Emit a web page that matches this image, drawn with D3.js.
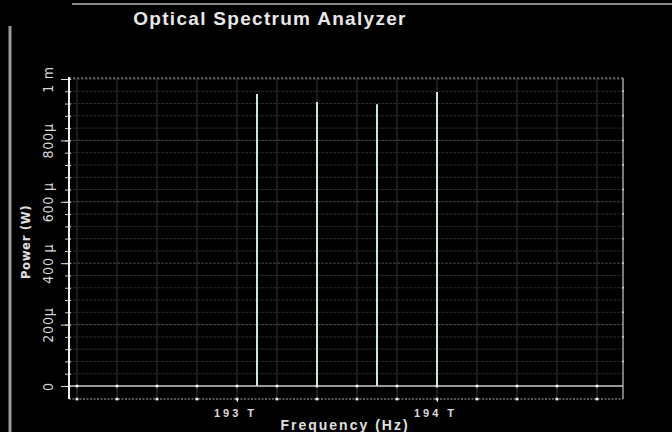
<!DOCTYPE html>
<meta charset="utf-8">
<style>
body { margin: 0; background: #000; }
svg { display: block; }
.title { font: bold 19px "Liberation Sans", Arial, sans-serif; fill: #e8e8e8; letter-spacing: 1.3px; }
.ylab text { font: 14px "Liberation Sans Narrow", "DejaVu Sans Condensed", sans-serif; fill: #d8d8d8; letter-spacing: 0.8px; }
.xlab text { font: bold 11px "Liberation Sans", Arial, sans-serif; fill: #dcdcdc; letter-spacing: 3px; }
.axtitle { fill: #e0e0e0; }
</style>
<body>

<script src="https://cdn.jsdelivr.net/npm/d3@7"></script>
<script>

// peaks (THz, W)
var freqs  = [193.1, 193.4, 193.7, 194.0];
var powers = [951e-6, 925e-6, 918e-6, 958e-6];

// ticks
var yTicks = [0, 200e-6, 400e-6, 600e-6, 800e-6, 1e-3];
var yTickLabels = ["0", "200μ", "400 μ", "600 μ", "800μ", "1 m"];
var xTicks = [193, 194];
var xTickLabels = ["193 T", "194 T"];

var W = 672, H = 432;
var plot = {left: 69, right: 623, top: 79, zero: 386, bottom: 399};

var svg = d3.select("body").append("svg")
    .attr("width", W)
    .attr("height", H);

svg.append("rect").attr("width", W).attr("height", H).attr("fill", "#000");

// window frame bits
svg.append("line").attr("x1", 72).attr("x2", W).attr("y1", 4).attr("y2", 4)
    .attr("stroke", "#8a8a8a").attr("stroke-width", 2);
svg.append("line").attr("x1", 10).attr("x2", 10).attr("y1", 26).attr("y2", H)
    .attr("stroke", "#9a9a9a").attr("stroke-width", 3);

var x = d3.scaleLinear()
    .domain([192.16, 194.93])
    .range([plot.left, plot.right]);
var y = d3.scaleLinear()
    .domain([0, 1e-3])
    .range([plot.zero, plot.top]);

// grid
var vGrid = d3.range(0, 14).map(function(i) { return 192.2 + i * 0.2; });
var hGrid = d3.range(1, 26).map(function(i) { return i * 40e-6; });

svg.append("g").selectAll("line")
    .data(hGrid)
  .enter().append("line")
    .attr("x1", plot.left).attr("x2", plot.right)
    .attr("y1", function(d) { return y(d); })
    .attr("y2", function(d) { return y(d); })
    .attr("stroke", function(d, i) { return (i + 1) % 5 == 0 ? "#484848" : "#2a2a2a"; })
    .attr("stroke-dasharray", "3,1");

svg.append("g").selectAll("line")
    .data(vGrid)
  .enter().append("line")
    .attr("x1", function(d) { return x(d); })
    .attr("x2", function(d) { return x(d); })
    .attr("y1", plot.top).attr("y2", plot.bottom)
    .attr("stroke", "#383838");

// top dotted border
svg.append("line").attr("x1", plot.left).attr("x2", plot.right)
    .attr("y1", plot.top - 1).attr("y2", plot.top - 1)
    .attr("stroke", "#9a9a9a").attr("stroke-dasharray", "2,2");
// right border
svg.append("line").attr("x1", plot.right).attr("x2", plot.right)
    .attr("y1", plot.top - 1).attr("y2", plot.bottom)
    .attr("stroke", "#a0a0a0").attr("stroke-width", 1.5);
svg.append("g").selectAll("circle")
    .data(d3.range(1, 13).map(function(i) { return i * 80e-6; }))
  .enter().append("circle")
    .attr("cx", plot.right).attr("cy", function(d) { return y(d); })
    .attr("r", 1).attr("fill", "#cfcfcf");

// zero line
svg.append("line").attr("x1", plot.left).attr("x2", plot.right)
    .attr("y1", plot.zero).attr("y2", plot.zero)
    .attr("stroke", "#c8c8c8").attr("stroke-width", 1.5);
// bottom dotted line
svg.append("line").attr("x1", plot.left).attr("x2", plot.right)
    .attr("y1", plot.bottom).attr("y2", plot.bottom)
    .attr("stroke", "#b0b0b0").attr("stroke-dasharray", "2,1.5");

svg.append("g").selectAll("circle")
    .data(vGrid)
  .enter().append("circle")
    .attr("cx", function(d) { return x(d); }).attr("cy", plot.zero)
    .attr("r", 1.6).attr("fill", "#f0f0f0");
svg.append("g").selectAll("circle")
    .data(vGrid)
  .enter().append("circle")
    .attr("cx", function(d) { return x(d); }).attr("cy", plot.bottom)
    .attr("r", 1.6).attr("fill", "#f0f0f0");

// peaks
svg.append("g").selectAll("line")
    .data(freqs)
  .enter().append("line")
    .attr("x1", function(d) { return x(d); })
    .attr("x2", function(d) { return x(d); })
    .attr("y1", y(0))
    .attr("y2", function(d, i) { return y(powers[i]); })
    .attr("stroke", "#cde6e3")
    .attr("stroke-width", 2);

// y axis, minor ticks
var yMinor = d3.range(0, 26).map(function(i) { return i * 40e-6; });
svg.append("g")
    .attr("transform", "translate(" + plot.left + ",0)")
    .call(d3.axisLeft(y).tickValues(yMinor).tickSize(4).tickFormat(""))
    .call(function(g) {
      g.select(".domain").remove();
      g.selectAll("line").attr("stroke", "#d0d0d0").attr("x2", 2).attr("x1", -4);
    });

var yAxis = svg.append("g")
    .attr("class", "ylab")
    .attr("transform", "translate(" + plot.left + ",0)")
    .call(d3.axisLeft(y).tickValues(yTicks).tickSize(8)
      .tickFormat(function(d, i) { return yTickLabels[i]; }));
yAxis.select(".domain").remove();
yAxis.selectAll("line").attr("stroke", "#e0e0e0");
yAxis.selectAll("text")
    .attr("transform", "rotate(-90)")
    .attr("x", 0).attr("y", -16).attr("dy", 0)
    .attr("text-anchor", "middle");

svg.append("line").attr("x1", plot.left).attr("x2", plot.left)
    .attr("y1", plot.top - 2).attr("y2", plot.bottom)
    .attr("stroke", "#f0f0f0").attr("stroke-width", 2);

// x axis
var xAxis = svg.append("g")
    .attr("class", "xlab")
    .attr("transform", "translate(0," + plot.bottom + ")")
    .call(d3.axisBottom(x).tickValues(xTicks).tickSize(3)
      .tickFormat(function(d, i) { return xTickLabels[i]; }));
xAxis.select(".domain").remove();
xAxis.selectAll("line").attr("stroke", "#e0e0e0");
xAxis.selectAll("text").attr("dy", 0).attr("y", 18).attr("dx", -2);

// titles
svg.append("text").attr("class", "title")
    .attr("x", 270).attr("y", 25)
    .attr("text-anchor", "middle")
    .text("Optical Spectrum Analyzer");

svg.append("text").attr("class", "axtitle")
    .attr("x", 345).attr("y", 430)
    .attr("text-anchor", "middle")
    .style("font", "bold 14px 'Liberation Sans', Arial, sans-serif")
    .style("letter-spacing", "2px")
    .text("Frequency (Hz)");

svg.append("text").attr("class", "axtitle")
    .attr("transform", "translate(30,242) rotate(-90)")
    .attr("text-anchor", "middle")
    .style("font", "bold 13px 'Liberation Sans Narrow', 'DejaVu Sans Condensed', sans-serif")
    .style("letter-spacing", "0.6px")
    .text("Power (W)");

</script>
</body>
